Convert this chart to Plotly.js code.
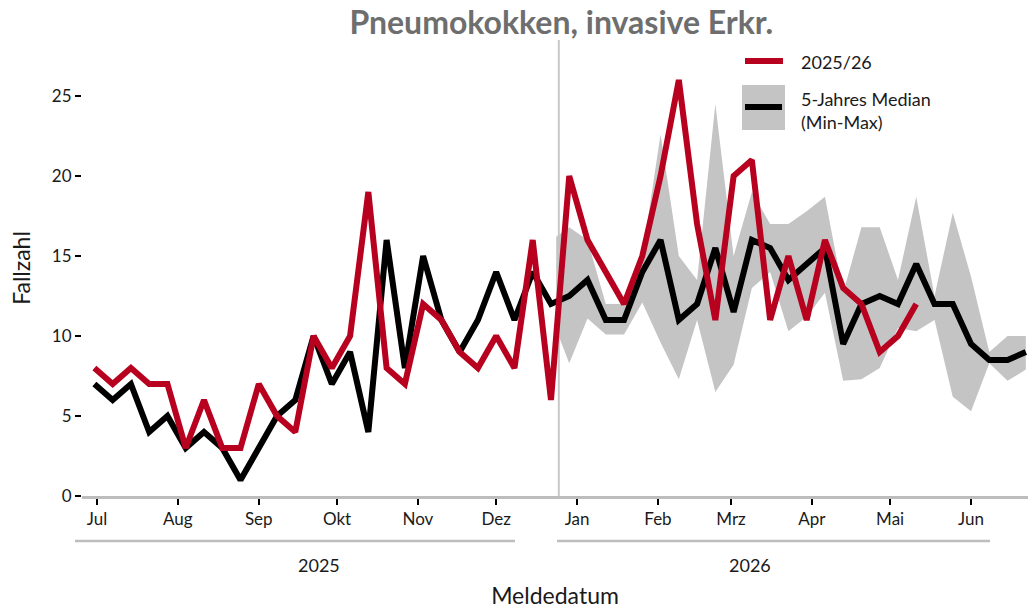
<!DOCTYPE html>
<html><head><meta charset="utf-8">
<script src="https://cdn.plot.ly/plotly-3.0.1.min.js"></script>
<style>html,body{margin:0;padding:0;background:#fff}#chart{width:1028px;height:609px}</style>
</head><body><div id="chart"></div>
<script>
const weeks = ["2025-06-30","2025-07-07","2025-07-14","2025-07-21","2025-07-28","2025-08-04","2025-08-11","2025-08-18","2025-08-25","2025-09-01","2025-09-08","2025-09-15","2025-09-22","2025-09-29","2025-10-06","2025-10-13","2025-10-20","2025-10-27","2025-11-03","2025-11-10","2025-11-17","2025-11-24","2025-12-01","2025-12-08","2025-12-15","2025-12-22","2025-12-29","2026-01-05","2026-01-12","2026-01-19","2026-01-26","2026-02-02","2026-02-09","2026-02-16","2026-02-23","2026-03-02","2026-03-09","2026-03-16","2026-03-23","2026-03-30","2026-04-06","2026-04-13","2026-04-20","2026-04-27","2026-05-04","2026-05-11","2026-05-18","2026-05-25","2026-06-01","2026-06-08","2026-06-15","2026-06-22"];
const current = [8,7,8,7,7,3,6,3,3,7,5,4,10,8,10,19,8,7,12,11,9,8,10,8,16,6,20,16,14,12,15,20,26,17,11,20,21,11,15,11,16,13,12,9,10,12];
const median = [7,6,7,4,5,3,4,3,1,3,5,6,10,7,9,4,16,8,15,11,9,11,14,11,14,12,12.5,13.5,11,11,14,16,11,12,15.5,11.5,16,15.5,13.5,14.5,15.5,9.5,12,12.5,12,14.5,12,12,9.5,8.5,8.5,9];
const rangeWeeks = ["2025-12-24"].concat(weeks.slice(26));
const rangeMax = [16.2,16.8,16,12,12,15,22.6,15,13.5,24.5,15,19,17,17,17.8,18.7,12.7,16.8,16.8,13.5,18.7,12.5,17.7,13.7,9,10,10];
const rangeMin = [10.4,8.3,11.1,10.1,10.1,12.1,9.6,7.3,11,6.5,8.2,13,14,10.3,11.2,12.7,7.2,7.3,8,10.5,10.3,11,6.2,5.3,8.3,7.2,7.9];
const monthTicks = ["2025-07-01","2025-08-01","2025-09-01","2025-10-01","2025-11-01","2025-12-01","2026-01-01","2026-02-01","2026-03-01","2026-04-01","2026-05-01","2026-06-01"];
const monthLabels = ["Jul","Aug","Sep","Okt","Nov","Dez","Jan","Feb","Mrz","Apr","Mai","Jun"];
const yearLabels = ["2025","2026"];
const seasonBreak = "2025-12-25";

const RED = "#b8001f", GREY = "#c4c4c4", FONT = "Lato, 'Open Sans', sans-serif";

const traces = [
  {x: rangeWeeks, y: rangeMin, mode: "lines", line: {width: 0, color: GREY}, hoverinfo: "skip", showlegend: false},
  {x: rangeWeeks, y: rangeMax, mode: "lines", line: {width: 0, color: GREY}, fill: "tonexty", fillcolor: GREY, showlegend: false},
  {x: weeks, y: median, mode: "lines", line: {width: 6, color: "#000"}, showlegend: false},
  {x: weeks.slice(0, current.length), y: current, mode: "lines", line: {width: 6, color: RED}, showlegend: false}
];

const px = v => (v - 82) / 946;      // pixel -> paper x
const py = v => (496 - v) / 456;     // pixel -> paper y

const shapes = [
  {type: "line", xref: "x", yref: "paper", x0: seasonBreak, x1: seasonBreak, y0: 0, y1: 1, line: {color: "#c8c8c8", width: 2}, layer: "below"},
  {type: "line", xref: "paper", yref: "paper", x0: px(75), x1: px(515), y0: py(541), y1: py(541), line: {color: "#bdbdbd", width: 2.5}},
  {type: "line", xref: "paper", yref: "paper", x0: px(557), x1: px(990), y0: py(541), y1: py(541), line: {color: "#bdbdbd", width: 2.5}},
  {type: "line", xref: "paper", yref: "paper", x0: px(745), x1: px(783), y0: py(61), y1: py(61), line: {color: RED, width: 6}},
  {type: "rect", xref: "paper", yref: "paper", x0: px(742), x1: px(785), y0: py(85), y1: py(130), fillcolor: GREY, line: {width: 0}},
  {type: "line", xref: "paper", yref: "paper", x0: px(745), x1: px(782), y0: py(107), y1: py(107), line: {color: "#000", width: 6}}
];

const annotations = [
  {xref: "paper", yref: "paper", x: px(296), y: py(565), yanchor: "middle", text: yearLabels[0], showarrow: false, font: {size: 18, color: "#1a1a1a", family: FONT}},
  {xref: "paper", yref: "paper", x: px(773), y: py(565), yanchor: "middle", text: yearLabels[1], showarrow: false, font: {size: 18, color: "#1a1a1a", family: FONT}},
  {xref: "paper", yref: "paper", x: px(799), y: py(62), xanchor: "left", yanchor: "middle", text: "2025/26", showarrow: false, font: {size: 18, color: "#1a1a1a", family: FONT}},
  {xref: "paper", yref: "paper", x: px(799), y: py(110), xanchor: "left", yanchor: "middle", align: "left", text: "5-Jahres Median<br>(Min-Max)", showarrow: false, font: {size: 18, color: "#1a1a1a", family: FONT}}
];

const layout = {
  width: 1028, height: 609,
  margin: {l: 82, r: 0, t: 40, b: 113},
  paper_bgcolor: "#fff", plot_bgcolor: "#fff",
  font: {family: FONT, color: "#1a1a1a", size: 18},
  title: {text: "<b>Pneumokokken, invasive Erkr.</b>", x: 0.546, xanchor: "center", y: 0.963, yanchor: "middle", font: {size: 32, color: "#6e6e6e", family: FONT}},
  xaxis: {
    type: "date", range: ["2025-06-25 06:00", "2026-06-22 20:00"],
    tickvals: monthTicks, ticktext: monthLabels,
    ticks: "outside", ticklen: 6, tickwidth: 2, tickcolor: "#000",
    showline: true, linecolor: "#bdbdbd", linewidth: 2.5,
    showgrid: false, zeroline: false,
    tickfont: {size: 17, color: "#1a1a1a"},
    title: {text: "Meldedatum", font: {size: 23, color: "#1a1a1a"}, standoff: 60}
  },
  yaxis: {
    range: [0, 28.5], tickvals: [0, 5, 10, 15, 20, 25],
    ticks: "outside", ticklen: 6, tickwidth: 2, tickcolor: "#000",
    showline: false, showgrid: false, zeroline: false,
    tickfont: {size: 17, color: "#1a1a1a"},
    title: {text: "Fallzahl", font: {size: 23, color: "#1a1a1a"}, standoff: 14}
  },
  showlegend: false,
  shapes: shapes,
  annotations: annotations
};

Plotly.newPlot("chart", traces, layout, {displayModeBar: false, staticPlot: true});
</script></body></html>
